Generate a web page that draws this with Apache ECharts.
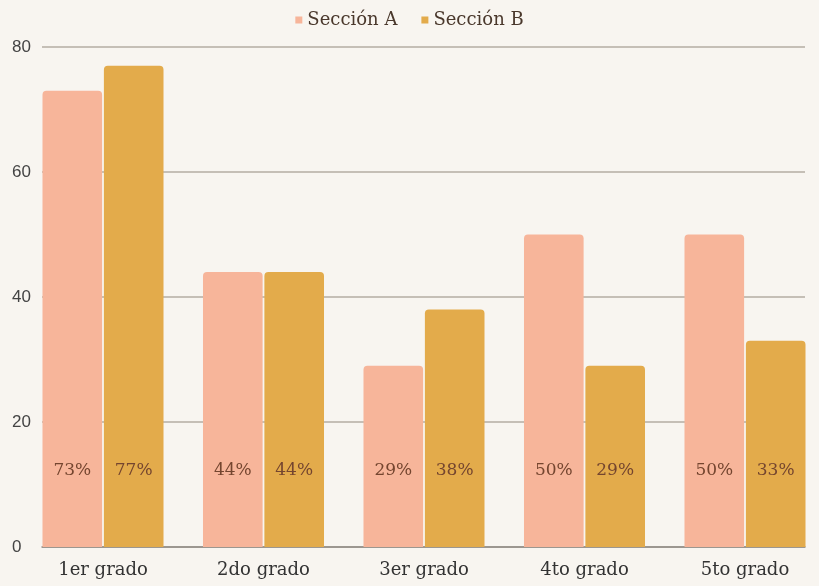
<!DOCTYPE html>
<html>
<head>
<meta charset="utf-8">
<script src="https://cdn.jsdelivr.net/npm/echarts@6/dist/echarts.min.js"></script>
<style>
html,body{margin:0;padding:0;background:#f8f5f0;}
#c{width:819px;height:586px;}
</style>
</head>
<body>
<div id="c"></div>
<script>
var categories = ['1er grado', '2do grado', '3er grado', '4to grado', '5to grado'];
var seriesNames = ['Sección A', 'Sección B'];
var seccionA = [73, 44, 29, 50, 50];
var seccionB = [77, 44, 38, 29, 33];
var yTicks = [0, 20, 40, 60, 80];

var chart = echarts.init(document.getElementById('c'));
var serif = 'DejaVu Serif';
var labelStyle = {
  show: true,
  position: 'insideBottom',
  distance: 68,
  formatter: '{c}%',
  color: '#74452f',
  fontFamily: serif,
  fontSize: 17
};
chart.setOption({
  backgroundColor: '#f8f5f0',
  animation: false,
  legend: {
    top: 6,
    left: 'center',
    itemWidth: 7,
    itemHeight: 7,
    itemGap: 24,
    icon: 'rect',
    textStyle: {fontFamily: serif, fontSize: 18, color: '#4a382c'},
    data: seriesNames
  },
  grid: [
    {left: 42, right: 14, top: 47, bottom: 39, outerBoundsMode: 'none', containLabel: false},
    {left: 22.75, width: 802.5, top: 47, bottom: 39, outerBoundsMode: 'none', containLabel: false}
  ],
  xAxis: [
    {type: 'category', gridIndex: 0, data: categories,
     axisLine: {show: true, lineStyle: {color: '#8f8a84', width: 1.5}},
     axisTick: {show: false}, axisLabel: {show: false}, splitLine: {show: false}},
    {type: 'category', gridIndex: 1, data: categories,
     axisLine: {show: false}, axisTick: {show: false},
     axisLabel: {fontFamily: serif, fontSize: 18, color: '#333', margin: 14}}
  ],
  yAxis: [
    {type: 'value', gridIndex: 0, min: yTicks[0], max: yTicks[yTicks.length - 1], interval: 20,
     axisLine: {show: false}, axisTick: {show: false},
     axisLabel: {fontFamily: 'Liberation Sans', fontSize: 17, color: '#444', align: 'left', margin: 30},
     splitLine: {lineStyle: {color: '#b5aca3', width: 1.5}}},
    {type: 'value', gridIndex: 1, min: yTicks[0], max: yTicks[yTicks.length - 1], interval: 20,
     show: false, splitLine: {show: false}}
  ],
  series: [
    {name: seriesNames[0], type: 'bar', xAxisIndex: 1, yAxisIndex: 1, data: seccionA,
     barGap: '3%', barCategoryGap: '24.6%',
     itemStyle: {color: '#f7b59a', borderRadius: [4, 4, 0, 0]},
     label: labelStyle},
    {name: seriesNames[1], type: 'bar', xAxisIndex: 1, yAxisIndex: 1, data: seccionB,
     barGap: '3%', barCategoryGap: '24.6%',
     itemStyle: {color: '#e3ab4b', borderRadius: [4, 4, 0, 0]},
     label: labelStyle}
  ]
});
</script>
</body>
</html>
